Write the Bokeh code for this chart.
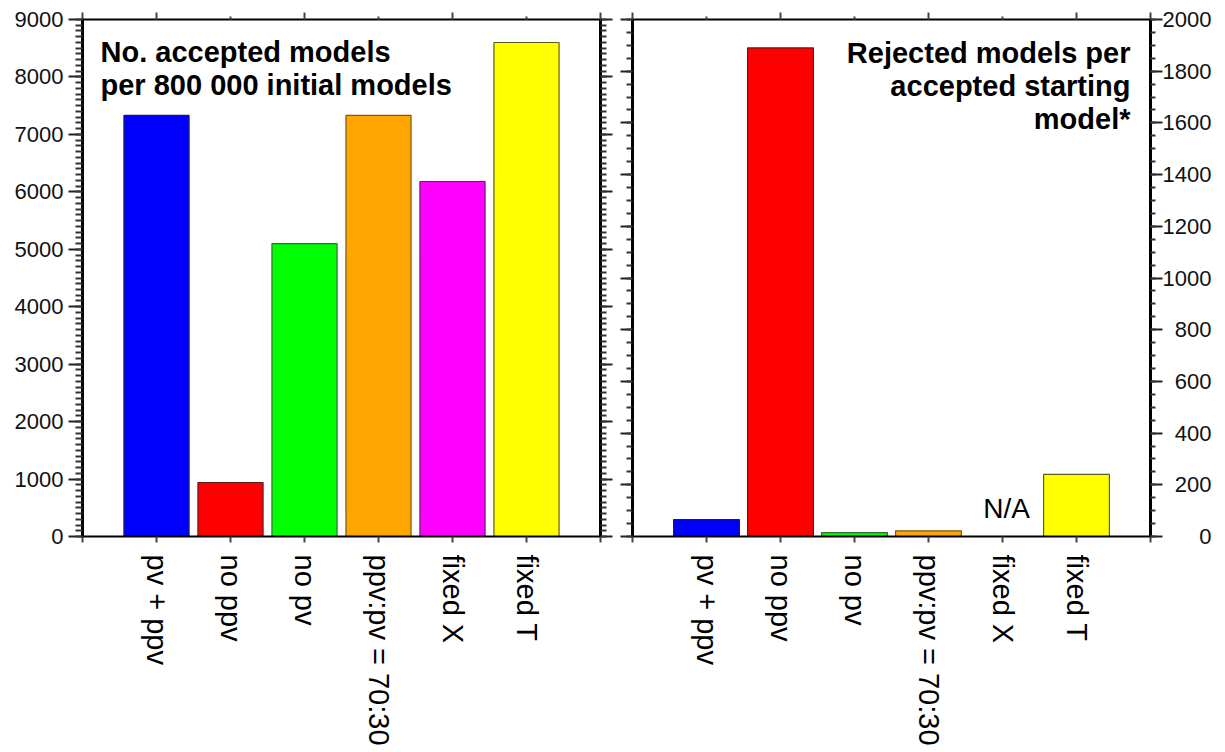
import math

from bokeh.plotting import figure
from bokeh.layouts import row
from bokeh.models import Range1d, LinearAxis, SingleIntervalTicker, FixedTicker, Label
from bokeh.embed import file_html
from bokeh.resources import INLINE

# ---- data -------------------------------------------------------------
categories = ["pv + ppv", "no ppv", "no pv", "ppv:pv = 70:30", "fixed X", "fixed T"]
bar_colors = ["#0000ff", "#ff0000", "#00ff00", "#ffa500", "#ff00ff", "#ffff00"]
edge_colors = ["#1a1a5e", "#5e1a1a", "#3a6a3a", "#7a5a1a", "#6a1a6a", "#5e5e1a"]

accepted = [7330, 940, 5100, 7330, 6180, 8600]           # per 800 000 initial models
rejected_per_accepted = [65, 1890, 15, 22, None, 240]    # fixed X: not available

left_title = ["No. accepted models", "per 800 000 initial models"]
right_title = ["Rejected models per", "accepted starting", "model*"]

FONT = "Liberation Sans"
FRAME_W, FRAME_H = 518, 517
TOP, BOTTOM = 19, 216


def base_figure(y_max, border_left, border_right, y_side):
    p = figure(
        width=border_left + FRAME_W + border_right,
        height=TOP + FRAME_H + BOTTOM,
        frame_width=FRAME_W, frame_height=FRAME_H,
        x_range=Range1d(-1, 6), y_range=Range1d(0, y_max),
        min_border_left=border_left, min_border_right=border_right,
        min_border_top=TOP, min_border_bottom=BOTTOM,
        y_axis_location=y_side,
        output_backend="svg", toolbar_location=None,
        background_fill_color="white", border_fill_color="white",
    )
    p.outline_line_color = None
    p.xgrid.visible = False
    p.ygrid.visible = False
    return p


def style_value_axis(ax, interval, minor, show_labels):
    ax.ticker = SingleIntervalTicker(interval=interval, num_minor_ticks=minor)
    ax.axis_line_color = "black"
    ax.axis_line_width = 3
    ax.major_tick_line_color = "#222222"
    ax.minor_tick_line_color = "#333333"
    ax.major_tick_line_width = 2
    ax.minor_tick_line_width = 2
    ax.major_tick_in = 0
    ax.minor_tick_in = 0
    ax.major_label_text_font = FONT
    ax.major_label_text_color = "#111111"
    if not show_labels:
        ax.major_label_text_font_size = "0px"
        ax.major_label_text_alpha = 0


def style_category_axis(ax, major, minor, labels):
    ax.ticker = FixedTicker(ticks=major, minor_ticks=minor)
    ax.axis_line_color = "black"
    ax.axis_line_width = 2
    ax.major_tick_line_color = "#444444"
    ax.minor_tick_line_color = "#444444"
    ax.major_tick_line_width = 2
    ax.minor_tick_line_width = 2
    ax.major_tick_in = 0
    ax.minor_tick_in = 0
    if labels:
        ax.major_label_overrides = {i: c for i, c in enumerate(categories)}
        ax.major_label_orientation = -math.pi / 2
        ax.major_label_text_font = FONT
        ax.major_label_text_font_size = "29px"
        ax.major_label_text_color = "black"
        ax.major_label_standoff = 12
        ax.major_tick_out = 6
        ax.minor_tick_out = 6
    else:
        ax.major_label_text_font_size = "0px"
        ax.major_label_text_alpha = 0
        ax.major_tick_out = 7
        ax.minor_tick_out = 3


def add_title(p, lines, x, align, baselines):
    for line, yb in zip(lines, baselines):
        p.add_layout(Label(
            x=x, y=TOP + FRAME_H - yb, x_units="screen", y_units="screen",
            text=line, text_align=align, text_baseline="alphabetic",
            text_font=FONT, text_font_style="bold", text_font_size="29px",
            text_color="black",
        ))


# ---- left panel: accepted models ---------------------------------------
left = base_figure(9000, 82, 16, "left")
left.vbar(x=list(range(len(categories))), top=accepted, bottom=0, width=0.88,
          fill_color=bar_colors, line_color=edge_colors, line_width=1.2)

style_value_axis(left.yaxis[0], 1000, 10, True)
left.yaxis[0].major_label_text_font_size = "22px"
left.yaxis[0].major_tick_out = 14
left.yaxis[0].minor_tick_out = 7
left.yaxis[0].major_label_standoff = 5

style_category_axis(left.xaxis[0], list(range(len(categories))), [-1, 6], True)

mirror_y = LinearAxis()
style_value_axis(mirror_y, 1000, 10, False)
mirror_y.major_tick_out = 12
mirror_y.minor_tick_out = 6
left.add_layout(mirror_y, "right")

top_l = LinearAxis()
style_category_axis(top_l, [-1, 0, 2, 4, 6], [1, 3, 5], False)
left.add_layout(top_l, "above")

add_title(left, left_title, 18, "left", [51, 84])

# ---- right panel: rejected models per accepted model -------------------
right = base_figure(2000, 16, 75, "right")
idx = [i for i, v in enumerate(rejected_per_accepted) if v is not None]
right.vbar(x=idx, top=[rejected_per_accepted[i] for i in idx], bottom=0, width=0.89,
           fill_color=[bar_colors[i] for i in idx],
           line_color=[edge_colors[i] for i in idx], line_width=1.2)

ry = right.yaxis[0]
style_value_axis(ry, 200, 4, True)
ry.major_label_text_font_size = "22px"
ry.major_tick_out = 12
ry.minor_tick_out = 5
ry.major_label_standoff = 0
# right-align the value labels with figure spaces
ry.major_label_overrides = {v: str(v).rjust(4, "\u2007") for v in range(0, 2001, 200)}

style_category_axis(right.xaxis[0], list(range(len(categories))), [-1, 6], True)

mirror_r = LinearAxis()
style_value_axis(mirror_r, 200, 4, False)
mirror_r.major_tick_out = 12
mirror_r.minor_tick_out = 6
right.add_layout(mirror_r, "left")

top_r = LinearAxis()
style_category_axis(top_r, [-1, 1, 3, 5, 6], [0, 2, 4], False)
right.add_layout(top_r, "above")

add_title(right, right_title, 498, "right", [52, 85, 118])

right.add_layout(Label(
    x=categories.index("fixed X"), y=0, x_offset=4, y_offset=28,
    text="N/A", text_align="center", text_baseline="alphabetic",
    text_font=FONT, text_font_size="28px", text_color="black",
))

layout = row(left, right, spacing=0)
open("out.html", "w").write(file_html(layout, INLINE))
